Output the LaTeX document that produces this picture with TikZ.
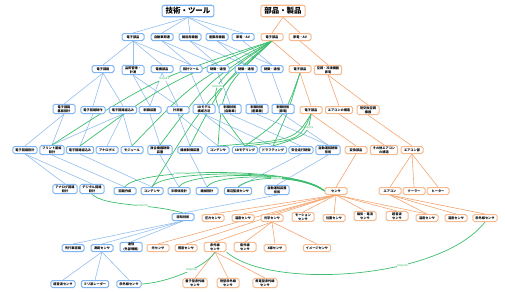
\documentclass[tikz,border=0pt]{standalone}
\usepackage{fontspec}
\newfontfamily\cjk{Noto Sans CJK JP}
\usetikzlibrary{calc}
\pgfdeclarelayer{back}
\pgfdeclarelayer{bg}
\pgfsetlayers{back,bg,main}
\definecolor{bbox}{HTML}{7FB5F2}
\definecolor{obox}{HTML}{F7B98E}
\definecolor{bline}{HTML}{93BFEE}
\definecolor{oline}{HTML}{F4A772}
\definecolor{gline}{HTML}{3DBE6E}
\begin{document}
\begin{tikzpicture}[x=1bp,y=-1bp,
  box/.style={draw, rounded corners=1.6bp, line width=1bp, fill=white,
    font=\cjk\bfseries\fontsize{3.2}{4.1}\selectfont, align=center,
    inner xsep=2.5bp, inner ysep=1bp, minimum width=22bp, minimum height=7bp},
  bb/.style={box, draw=bbox},
  ob/.style={box, draw=obox},
  title/.style={draw, rounded corners=2.2bp, line width=1.1bp, fill=white,
    font=\cjk\bfseries\fontsize{7.5}{8}\selectfont, inner xsep=3.5bp, inner ysep=1.5bp, minimum height=11.5bp},
  be/.style={draw=bline, line width=0.6bp},
  oe/.style={draw=oline, line width=0.6bp},
  ge/.style={draw=gline, line width=0.7bp},
  req/.style={font=\cjk\fontsize{3.2}{4}\selectfont, text=gline, fill=white, inner sep=0.3bp}
]
\begin{pgfonlayer}{back}
\fill[white] (0,0) rectangle (505,291);
\end{pgfonlayer}
\useasboundingbox (0,0) rectangle (505,291);

% titles
\node[title, draw=bbox] (T) at (188,11) {技術・ツール};
\node[title, draw=obox] (R) at (283,11) {部品・製品};

% level 1
\node[bb] (b1a) at (133,37) {電子部品};
\node[bb] (b1b) at (162,37) {自動車関連};
\node[bb] (b1c) at (190,37) {輸送用機器};
\node[bb] (b1d) at (217,37) {産業用機器};
\node[bb] (b1e) at (243,37) {家電・AV};
\node[ob] (o1a) at (272,37) {電子部品};
\node[ob] (o1b) at (300,37) {家電・AV};

% level 2
\node[bb] (b2a) at (103,69) {電子回路};
\node[bb] (b2b) at (133,70) {品質管理・\\計測};
\node[bb] (b2c) at (162,69) {電機部品};
\node[bb] (b2d) at (191,69) {設計ツール};
\node[bb] (b2e) at (218,69) {制御・通信};
\node[bb] (b2f) at (246,69) {制御・通信};
\node[bb] (b2g) at (272,69) {制御・通信};
\node[ob] (o2a) at (300,69) {電子部品};
\node[ob] (o2b) at (328,70) {空調・冷凍機器\\家電};

% level 3
\node[bb] (b3a) at (64,109) {電子回路\\基板設計};
\node[bb] (b3b) at (93,110) {電子回路制作};
\node[bb] (b3c) at (123,110) {電子回路組込み};
\node[bb] (b3d) at (150,110) {制御装置};
\node[bb] (b3e) at (178,110) {計測器};
\node[bb] (b3f) at (204,109) {3Dモデル\\構成方法};
\node[bb] (b3g) at (230,109) {制御技術\\(自動車)};
\node[bb] (b3h) at (257,109) {制御技術\\(産業機)};
\node[bb] (b3i) at (283,109) {制御技術\\(家電)};
\node[ob] (o3a) at (311,110) {電子部品};
\node[ob] (o3b) at (339,110) {エアコンの構造};
\node[ob] (o3c) at (368,110) {熱交換空調\\機器};

% level 4
\node[bb] (b4a) at (25,150) {電子回路設計};
\node[bb] (b4b) at (52,150) {プリント基板\\設計};
\node[bb] (b4c) at (80,150) {電子回路組込み};
\node[bb] (b4d) at (107,150) {アナログIC};
\node[bb] (b4e) at (132,150) {モジュール};
\node[bb] (b4f) at (160,150) {複合機器制御\\装置};
\node[bb] (b4g) at (190,150) {機械制御装置};
\node[bb] (b4h) at (218,150) {コンデンサ};
\node[bb] (b4i) at (245,150) {3Dモデリング};
\node[bb] (b4j) at (273,150) {ドラフティング};
\node[bb] (b4k) at (301,150) {安全走行制御};
\node[bb] (b4l) at (328,150) {自動運転制御\\技術};
\node[ob] (o4a) at (356,150) {変換部品};
\node[ob] (o4b) at (384,150) {その他エアコン\\の構造};
\node[ob] (o4c) at (412,150) {エアコン部};

% level 5
\node[bb] (b5a) at (65,189) {アナログ回路\\設計};
\node[bb] (b5b) at (92,189) {デジタル回路\\設計};
\node[bb] (b5c) at (125,191) {回路作成};
\node[bb] (b5d) at (152,191) {コンデンサ};
\node[bb] (b5e) at (179,191) {半導体設計};
\node[bb] (b5f) at (207,191) {機械設計};
\node[bb] (b5g) at (238,191) {周辺監視センサ};
\node[bb] (b5h) at (277,190) {自動運転装置\\技術};
\node[ob] (o5a) at (336,191) {センサ};
\node[ob] (o5b) at (390,191) {エアコン};
\node[ob] (o5c) at (414,191) {クーラー};
\node[ob] (o5d) at (438,191) {ヒーター};

% level 6
\node[bb] (b6) at (183,217) {認知技術};
\node[ob] (o6a) at (213,218) {圧力センサ};
\node[ob] (o6b) at (243,218) {温度センサ};
\node[ob] (o6c) at (272,218) {光学センサ};
\node[ob] (o6d) at (303,217) {モーション\\センサ};
\node[ob] (o6e) at (334,218) {位置センサ};
\node[ob] (o6f) at (365,216) {磁気・電流\\センサ};
\node[ob] (o6g) at (397,216) {超音波\\センサ};
\node[ob] (o6h) at (427,218) {温度センサ};
\node[ob] (o6i) at (456,218) {湿度センサ};
\node[ob] (o6j) at (485,218) {赤外線センサ};

% level 7
\node[bb] (b7a) at (73,248) {先行車認識};
\node[bb] (b7b) at (102,248) {測距センサ};
\node[bb] (b7c) at (131,247) {通信\\(外部情報)};
\node[ob] (o7a) at (158,248) {光センサ};
\node[ob] (o7b) at (186,248) {照度センサ};
\node[ob] (o7c) at (215,247) {赤外線\\センサ};
\node[ob] (o7d) at (245,247) {紫外線\\センサ};
\node[ob] (o7e) at (275,248) {X線センサ};
\node[ob] (o7f) at (317,248) {イメージセンサ};

% level 8
\node[bb] (b8a) at (63,284) {超音波センサ};
\node[bb] (b8b) at (95,284) {ミリ波レーダー};
\node[bb] (b8c) at (129,284) {赤外線センサ};
\node[ob] (o8a) at (195,283) {量子型赤外線\\センサ};
\node[ob] (o8b) at (228,283) {熱型赤外線\\センサ};
\node[ob] (o8c) at (265,283) {焦電型赤外線\\センサ};

\begin{pgfonlayer}{bg}
% blue tree edges
\foreach \p/\c in {T/b1a,T/b1b,T/b1c,T/b1d,T/b1e,
  b1a/b2a,b1a/b2b,b1a/b2c,b1a/b2d,b1b/b2d,b1b/b2e,b1c/b2e,b1c/b2f,b1d/b2f,b1d/b2g,b1e/b2g,
  b2a/b3a,b2a/b3b,b2a/b3c,b2b/b3d,b2b/b3e,b2c/b3d,b2c/b3e,b2d/b3f,b2e/b3g,b2f/b3h,b2g/b3i,
  b3a/b4a,b3a/b4b,b3c/b4b,b3b/b4c,b3c/b4d,b3c/b4e,b3d/b4f,b3e/b4g,b3e/b4h,
  b3f/b4i,b3f/b4j,b3g/b4k,b3h/b4l,b3i/b4l,
  b4a/b5a,b4a/b5b,b4b/b5c,b4c/b5d,b4f/b5e,b4g/b5f,b4k/b5g,b4l/b5h,
  b5h/b6,b6/b7a,b6/b7b,b6/b7c,b7b/b8a,b7b/b8b,b7b/b8c}
  \draw[be] (\p.south) -- (\c.north);
% orange tree edges
\foreach \p/\c in {R/o1a,R/o1b,o1a/o2a,o1b/o2b,o2a/o3a,o2b/o3b,o2b/o3c,
  o3a/o4a,o3b/o4b,o3c/o4c,o4a/o5a,o4c/o5b,o4c/o5c,o4c/o5d,
  o5a/o6a,o5a/o6b,o5a/o6c,o5a/o6d,o5a/o6e,o5a/o6f,o5a/o6g,o5a/o6h,o5a/o7a,o5a/o7b,
  o5b/o6h,o5b/o6i,o5b/o6j,
  o6c/o7c,o6c/o7d,o6c/o7e,o6c/o7f,o7c/o8a,o7c/o8b,o7c/o8c}
  \draw[oe] (\p.south) -- (\c.north);

% green require edges
\draw[ge] (o1a.south) .. controls ($(o1a.south)!0.5!(b4b.north)+(-8,-14)$) .. (b4b.north)
  node[req, pos=0.45] {require};
\foreach \c in {b4c,b4e,b4f,b5d,b4g}
  \draw[ge] (o1a.south) .. controls ($(o1a.south)!0.5!(\c.north)+(-8,-12)$) .. (\c.north);
\draw[ge] (o1a.south) .. controls (202,89) .. (b4i.north) node[req, pos=0.45] {require};
\draw[ge] (o1a.south) .. controls (222,88) .. (b4h.north);
\draw[ge] (o2a.south) .. controls (288,112) .. (b4j.north);
\draw[ge] (o2a.south) .. controls (284,118) .. (b4i.north);
\draw[ge] (o3a.south) .. controls (308,135) .. (b4j.north) node[req, pos=0.3] {require};
\draw[ge] (o3a.south) .. controls (300,140) .. (b4i.north);
\draw[ge] (o3a.south) .. controls (295,140) .. (b4h.north);
% to センサ
\draw[ge] (b5c.north) .. controls (135,168) and (300,166) .. (o5a.west) node[req, pos=0.35] {require};
\draw[ge] (b5d.north) .. controls (160,170) and (300,168) .. (o5a.west);
\draw[ge] (b5e.north) .. controls (186,172) and (300,170) .. (o5a.west);
\draw[ge] (b5f.north) .. controls (213,174) and (300,172) .. (o5a.west);
\draw[ge] (b5g.north) .. controls (250,175) and (300,175) .. (o5a.west) node[req, pos=0.5] {require};
% lower
\draw[ge] (b5b.south) .. controls (105,207) and (150,203) .. (b6.north) node[req, pos=0.62] {require};
\draw[ge] (o7c.south) .. controls (205,268) and (165,283) .. (b8c.east) node[req, pos=0.4] {require};
\draw[ge] (o7c.south east) .. controls (270,290) and (440,280) .. (o6j.south) node[req, pos=0.65] {require};
\end{pgfonlayer}
\end{tikzpicture}
\end{document}
